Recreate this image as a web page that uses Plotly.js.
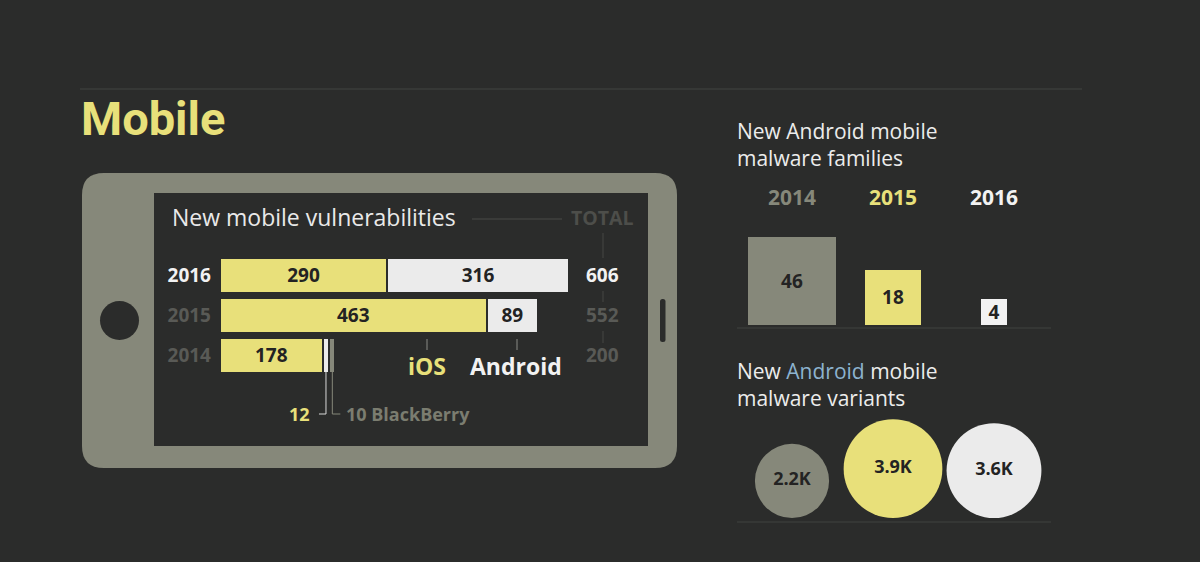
<!DOCTYPE html>
<html><head><meta charset="utf-8">
<script src="https://cdn.plot.ly/plotly-3.0.1.min.js"></script>
<style>html,body{margin:0;padding:0;background:#2b2c2b;overflow:hidden}#chart{width:1200px;height:562px;}</style>
</head><body><div id="chart"></div>
<script>
// ---------- data ----------
const vulnYears = ['2014', '2015', '2016'];
const iosVuln = [178, 463, 290];
const androidVuln = [12, 89, 316];
const blackberryVuln = [10, 0, 0];

const familyYears = ['2014', '2015', '2016'];
const androidFamilies = [46, 18, 4];

const variantYears = ['2014', '2015', '2016'];
const androidVariantsK = [2.2, 3.9, 3.6];

// ---------- style ----------
const W = 1200, H = 562;
const BG = '#2b2c2b', OLIVE = '#86887a', YELLOW = '#e8e07a', WHITE = '#ebebeb',
      BRIGHT = '#f2f2f2', DIM = '#595a56', INK = '#232323';
const FONT = 'Open Sans';
const px = x => x / W, py = y => 1 - y / H;
const PXU = 0.576;          // pixels per vulnerability
const SQ = 13;              // square side per sqrt(family)
const CR = 25;              // circle radius per sqrt(K variants)
const CAT_PX = 101;         // pixels per category on right panels
const yearColors = [OLIVE, YELLOW, BRIGHT];
const vulnYearColors = [DIM, DIM, BRIGHT];

const totals = vulnYears.map((y, i) => iosVuln[i] + androidVuln[i] + blackberryVuln[i]);
const insideText = (arr) => arr.map(v => (v * PXU > 30 ? String(v) : ''));
const barFont = {family: FONT, size: 19, color: INK, weight: 700};

const traces = [
  {type: 'bar', orientation: 'h', name: 'iOS', y: vulnYears, x: iosVuln,
   marker: {color: YELLOW, line: {color: BG, width: 2}},
   text: insideText(iosVuln), textposition: 'inside', insidetextanchor: 'middle', textangle: 0,
   textfont: barFont, constraintext: 'none', hoverinfo: 'skip', xaxis: 'x', yaxis: 'y'},
  {type: 'bar', orientation: 'h', name: 'Android', y: vulnYears, x: androidVuln,
   marker: {color: WHITE, line: {color: BG, width: 2}},
   text: insideText(androidVuln), textposition: 'inside', insidetextanchor: 'middle', textangle: 0,
   textfont: barFont, constraintext: 'none', hoverinfo: 'skip', xaxis: 'x', yaxis: 'y'},
  {type: 'bar', orientation: 'h', name: 'BlackBerry', y: vulnYears, x: blackberryVuln,
   marker: {color: OLIVE, line: {color: BG, width: 2}},
   textposition: 'none', hoverinfo: 'skip', xaxis: 'x', yaxis: 'y'},
  {type: 'bar', name: 'families', x: familyYears,
   y: androidFamilies.map(v => SQ * Math.sqrt(v)),
   width: androidFamilies.map(v => SQ * Math.sqrt(v) / CAT_PX),
   marker: {color: yearColors, line: {width: 0}},
   text: androidFamilies.map(String), textposition: 'inside', insidetextanchor: 'middle', textangle: 0,
   textfont: barFont, constraintext: 'none', hoverinfo: 'skip', xaxis: 'x2', yaxis: 'y2'},
  {type: 'scatter', mode: 'markers+text', name: 'variants', x: variantYears,
   y: androidVariantsK.map(v => CR * Math.sqrt(v)),
   marker: {size: androidVariantsK.map(v => 2 * CR * Math.sqrt(v)), color: [OLIVE, YELLOW, WHITE],
            line: {width: 0}, opacity: 1},
   text: androidVariantsK.map(v => v.toFixed(1) + 'K'), textposition: 'middle center',
   textfont: {family: FONT, size: 18, color: INK, weight: 700},
   cliponaxis: false, hoverinfo: 'skip', xaxis: 'x2', yaxis: 'y3'}
];

function roundRect(x0, y0, x1, y1, r) {
  const P = (x, y) => px(x) + ',' + py(y);
  return 'M' + P(x0 + r, y0) + ' L' + P(x1 - r, y0) + ' Q' + P(x1, y0) + ' ' + P(x1, y0 + r) +
         ' L' + P(x1, y1 - r) + ' Q' + P(x1, y1) + ' ' + P(x1 - r, y1) +
         ' L' + P(x0 + r, y1) + ' Q' + P(x0, y1) + ' ' + P(x0, y1 - r) +
         ' L' + P(x0, y0 + r) + ' Q' + P(x0, y0) + ' ' + P(x0 + r, y0) + ' Z';
}
const pline = (x0, y0, x1, y1, color, width) => ({type: 'line', xref: 'paper', yref: 'paper',
  x0: px(x0), y0: py(y0), x1: px(x1), y1: py(y1), line: {color: color, width: width || 1}, layer: 'below'});

// connector anchors (data coordinates of the small 2014 bars)
const androidMid = iosVuln[0] + androidVuln[0] / 2;
const bbMid = iosVuln[0] + androidVuln[0] + blackberryVuln[0] / 2;

const shapes = [
  pline(80, 89, 1082, 89, '#434443', 1),
  {type: 'path', xref: 'paper', yref: 'paper', path: roundRect(82, 173, 677, 468, 22),
   fillcolor: OLIVE, line: {width: 0}, layer: 'below'},
  {type: 'rect', xref: 'paper', yref: 'paper', x0: px(154), x1: px(648), y0: py(446), y1: py(193),
   fillcolor: BG, line: {width: 0}, layer: 'below'},
  {type: 'circle', xref: 'paper', yref: 'paper', x0: px(100), x1: px(139), y0: py(340), y1: py(301),
   fillcolor: BG, line: {width: 0}, layer: 'below'},
  {type: 'path', xref: 'paper', yref: 'paper', path: roundRect(660, 299, 665.5, 342, 2.5),
   fillcolor: BG, line: {width: 0}, layer: 'below'},
  pline(472, 219, 562, 219, '#4a4b48', 1),
  pline(603, 233, 603, 258, '#464744', 1),
  pline(603, 291, 603, 302, '#464744', 1),
  pline(603, 331, 603, 343, '#464744', 1),
  pline(427, 339, 427, 350, '#8a8a86', 1),
  pline(517, 339, 517, 350, '#8a8a86', 1),
  pline(737, 328, 1051, 328, '#414241', 1),
  pline(737, 522, 1051, 522, '#414241', 1),
  {type: 'line', xref: 'x', yref: 'paper', x0: androidMid, x1: androidMid, y0: py(372), y1: py(414),
   line: {color: '#d8d8d8', width: 1}},
  {type: 'line', xref: 'x', xsizemode: 'pixel', xanchor: androidMid, x0: -7, x1: 0, yref: 'paper',
   y0: py(414), y1: py(414), line: {color: '#d8d8d8', width: 1}},
  {type: 'line', xref: 'x', yref: 'paper', x0: bbMid, x1: bbMid, y0: py(372), y1: py(414),
   line: {color: OLIVE, width: 1}},
  {type: 'line', xref: 'x', xsizemode: 'pixel', xanchor: bbMid, x0: 0, x1: 8, yref: 'paper',
   y0: py(414), y1: py(414), line: {color: OLIVE, width: 1}}
];

const ann = (text, x, y, opts) => Object.assign({text: text, xref: 'paper', yref: 'paper', x: px(x), y: py(y),
  showarrow: false, xanchor: 'center', yanchor: 'middle'}, opts || {});
const annotations = [
  ann('Mobile', 79, 118, {xanchor: 'left', font: {family: 'Roboto', size: 47, color: YELLOW, weight: 700}}),
  ann('New mobile vulnerabilities', 170, 217, {xanchor: 'left', font: {family: FONT, size: 23, color: '#e9e9e9'}}),
  ann('TOTAL', 603, 218, {font: {family: FONT, size: 19.5, color: '#4d4e4a', weight: 700}}),
  ann('iOS', 427, 366, {font: {family: FONT, size: 23, color: YELLOW, weight: 700}}),
  ann('Android', 515.5, 366, {font: {family: FONT, size: 23, color: BRIGHT, weight: 700}}),
  ann(String(androidVuln[0]), 312, 414, {xanchor: 'right', font: {family: FONT, size: 18, color: YELLOW, weight: 700}}),
  ann(blackberryVuln[0] + ' BlackBerry', 344, 414, {xanchor: 'left', font: {family: FONT, size: 18, color: '#7b7d70', weight: 700}}),
  ann('New Android mobile<br>malware families', 735, 144.5, {xanchor: 'left', align: 'left',
      font: {family: FONT, size: 21, color: '#ececec'}}),
  ann('New <span style="color:#8db3cf">Android</span> mobile<br>malware variants', 735, 384.5, {xanchor: 'left', align: 'left',
      font: {family: FONT, size: 21, color: '#ececec'}})
];
vulnYears.forEach((y, i) => annotations.push({text: String(totals[i]), xref: 'paper', yref: 'y', x: px(603), y: i,
  showarrow: false, xanchor: 'center', yanchor: 'middle',
  font: {family: FONT, size: 19, color: vulnYearColors[i], weight: 700}}));
familyYears.forEach((y, i) => annotations.push({text: y, xref: 'x2', yref: 'paper', x: i, y: py(197.5),
  showarrow: false, xanchor: 'center', yanchor: 'middle',
  font: {family: FONT, size: 21, color: yearColors[i], weight: 700}}));

const layout = {
  width: W, height: H, margin: {l: 0, r: 0, t: 0, b: 0, pad: 0},
  paper_bgcolor: BG, plot_bgcolor: 'rgba(0,0,0,0)', showlegend: false,
  barmode: 'stack', bargap: 0.125, hovermode: false,
  font: {family: FONT, color: BRIGHT},
  xaxis: {domain: [px(220), px(640)], range: [0, 420 / PXU], visible: false, fixedrange: true, anchor: 'y'},
  yaxis: {domain: [py(375), py(255)], type: 'category', categoryorder: 'array', categoryarray: vulnYears,
          range: [-0.5, 2.5], showgrid: false, zeroline: false, showline: false, ticks: '',
          tickvals: vulnYears,
          ticktext: vulnYears.map((y, i) => '<span style="color:' + vulnYearColors[i] + '">' + y + '</span>'),
          tickfont: {family: FONT, size: 19, color: BRIGHT, weight: 700}, ticklabelstandoff: 8,
          fixedrange: true, anchor: 'x'},
  xaxis2: {domain: [px(737), px(1051)], type: 'category', categoryorder: 'array', categoryarray: familyYears,
           range: [(737 - 792) / CAT_PX, (1051 - 792) / CAT_PX], visible: false, fixedrange: true, anchor: 'y2'},
  yaxis2: {domain: [py(325), py(225)], range: [0, 100], visible: false, fixedrange: true, anchor: 'x2'},
  yaxis3: {domain: [py(518), py(418)], range: [0, 100], visible: false, fixedrange: true, anchor: 'x2'},
  shapes: shapes,
  annotations: annotations
};

Plotly.newPlot('chart', traces, layout, {displayModeBar: false, staticPlot: true, responsive: false});
</script></body></html>
